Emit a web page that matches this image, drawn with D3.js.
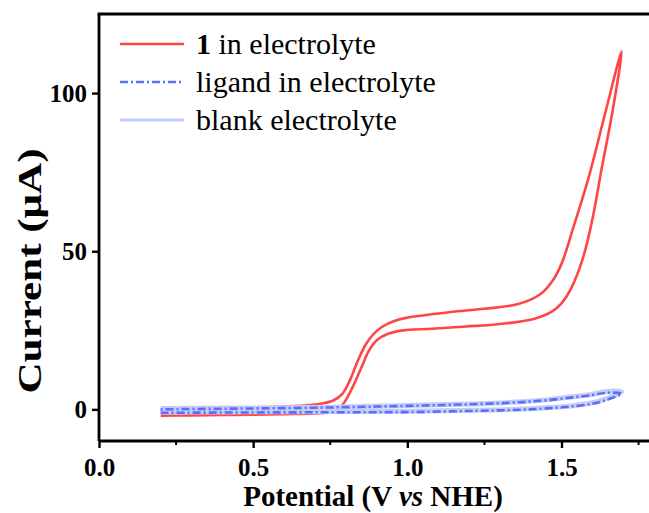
<!DOCTYPE html>
<html>
<head>
<meta charset="utf-8">
<script src="https://cdn.jsdelivr.net/npm/d3@7"></script>
<style>
  body { margin: 0; background: #fff; }
  text { font-family: "Liberation Serif", "Times New Roman", serif; }
</style>
</head>
<body>
<div id="chart"></div>
<script>
// values (potential in V vs NHE, current in µA)
const red_up_v = [0.2, 0.3, 0.4, 0.5, 0.6, 0.68, 0.72, 0.76, 0.79, 0.815, 0.84, 0.865, 0.89, 0.92, 0.96, 1.0, 1.05, 1.14, 1.25, 1.36, 1.43, 1.47, 1.5, 1.54, 1.59, 1.64, 1.695]
const red_up_i = [-0.4, 0, 0.3, 0.6, 0.9, 1.3, 1.8, 2.8, 5, 9.5, 15.5, 20.5, 23.8, 26.2, 28.0, 29.0, 29.7, 30.8, 31.8, 33.3, 36.3, 40.5, 46, 58, 74, 93, 113.2]
const red_lo_v = [0.2, 0.3, 0.4, 0.5, 0.6, 0.7, 0.76, 0.79, 0.82, 0.85, 0.875, 0.9, 0.93, 0.98, 1.08, 1.19, 1.3, 1.41, 1.47, 1.5, 1.53, 1.57, 1.6, 1.63, 1.665, 1.695]
const red_lo_i = [-2.0, -1.9, -1.8, -1.7, -1.5, -1.3, -0.6, 1.5, 6.5, 13, 18.5, 21.8, 23.6, 24.9, 25.5, 26.2, 27, 28.6, 31, 33.5, 38, 48, 60, 76, 94, 113.2]

const blue_v = [0.2, 0.4, 0.6, 0.8, 1.0, 1.2, 1.37, 1.45, 1.53, 1.6, 1.64, 1.695]
const lig_up_i = [0.0, 0.2, 0.4, 0.7, 1.1, 1.6, 2.3, 2.9, 3.7, 4.5, 5.2, 7.0]
const lig_lo_i = [-1.1, -1.0, -0.95, -0.9, -0.85, -0.5, -0.1, 0.3, 0.9, 1.8, 2.8, 5.0]
const blank_up_i = [0.3, 0.4, 0.5, 0.8, 1.2, 1.7, 2.4, 3.0, 3.9, 4.8, 5.6, 7.6]
const blank_lo_i = [-0.9, -0.8, -0.75, -0.7, -0.6, -0.3, 0.1, 0.5, 1.1, 2.1, 3.2, 5.6]

const x_ticks = [0, 0.5, 1.0, 1.5]
const x_minor = [0.25, 0.75, 1.25, 1.75]
const y_ticks = [0, 50, 100]

const width = 649, height = 513
const margin = { top: 14, right: -5, bottom: 72, left: 99 }

const svg = d3.select("#chart").append("svg")
    .attr("width", width)
    .attr("height", height)

const x = d3.scaleLinear().domain([0, 1.8]).range([margin.left, width - margin.right])
const y = d3.scaleLinear().domain([-10, 125]).range([height - margin.bottom, margin.top])

svg.append("clipPath").attr("id", "clip")
    .append("rect")
    .attr("x", x(0)).attr("y", y(125))
    .attr("width", x(1.8) - x(0)).attr("height", y(-10) - y(125))

// build a closed loop: lower branch forward, upper branch back
function loop(lo_v, lo_i, up_v, up_i) {
    const pts = lo_v.map((v, i) => [v, lo_i[i]])
    const back = up_v.map((v, i) => [v, up_i[i]]).reverse()
    return pts.concat(back.slice(1))
}

const line = d3.line()
    .x(d => x(d[0]))
    .y(d => y(d[1]))
    .curve(d3.curveCatmullRom.alpha(0.5))

const plot = svg.append("g").attr("clip-path", "url(#clip)")

plot.append("path")
    .datum(loop(red_lo_v, red_lo_i, red_up_v, red_up_i))
    .attr("d", line)
    .attr("fill", "none")
    .attr("stroke", "#ff4646")
    .attr("stroke-width", 2.6)

plot.append("path")
    .datum(loop(blue_v, blank_lo_i, blue_v, blank_up_i))
    .attr("d", line)
    .attr("fill", "none")
    .attr("stroke", "#c3cbfa")
    .attr("stroke-width", 5)
    .attr("stroke-linejoin", "round")

plot.append("path")
    .datum(loop(blue_v, lig_lo_i, blue_v, lig_up_i))
    .attr("d", line)
    .attr("fill", "none")
    .attr("stroke", "#5a6ff4")
    .attr("stroke-width", 2.6)
    .attr("stroke-dasharray", "8,3,2,3")

// axes
const xAxis = svg.append("g")
    .attr("transform", `translate(0, ${y(-10)})`)
    .call(d3.axisBottom(x).tickValues(x_ticks).tickSize(7).tickFormat(d3.format(".1f")))
xAxis.append("g").selectAll("line")
    .data(x_minor)
    .join("line")
    .attr("x1", d => x(d)).attr("x2", d => x(d))
    .attr("y1", 0).attr("y2", 4)
    .attr("stroke", "#000").attr("stroke-width", 2)

const yAxis = svg.append("g")
    .attr("transform", `translate(${x(0)}, 0)`)
    .call(d3.axisLeft(y).tickValues(y_ticks).tickSize(7).tickFormat(d3.format("d")))

for (const ax of [xAxis, yAxis]) {
    ax.select(".domain").attr("stroke-width", 2.8)
    ax.selectAll(".tick line").attr("stroke-width", 2.4)
    ax.selectAll(".tick text")
        .style("font-family", "'Liberation Serif', serif")
        .style("font-size", "25px")
        .style("font-weight", "bold")
        .attr("fill", "#000")
}
xAxis.selectAll(".tick text").attr("dy", "1.0em")
yAxis.selectAll(".tick text").attr("dx", "-2px")
xAxis.select(".domain").attr("d", `M${x(0)},0H${width + 10}`)
yAxis.select(".domain").attr("d", `M0,${y(-10)}V${y(125)}`)

// top frame line
svg.append("line")
    .attr("x1", x(0) - 1.4).attr("x2", width + 10)
    .attr("y1", y(125)).attr("y2", y(125))
    .attr("stroke", "#000").attr("stroke-width", 2.8)

// axis titles
const xt = svg.append("text")
    .attr("x", 373).attr("y", 506)
    .attr("text-anchor", "middle")
    .style("font-size", "29px").style("font-weight", "bold")
xt.append("tspan").text("Potential (V ")
xt.append("tspan").style("font-style", "italic").text("vs")
xt.append("tspan").text(" NHE)")

// y title is drawn tall and narrow in the original
svg.append("text")
    .attr("transform", "translate(41, 271) rotate(-90)")
    .attr("text-anchor", "middle")
    .attr("textLength", 245)
    .attr("lengthAdjust", "spacingAndGlyphs")
    .style("font-size", "34px").style("font-weight", "bold")
    .text("Current (\u03bcA)")

// legend
const legend = [
    { label: "in electrolyte", bold: "1", color: "#ff4646", width: 2.6, dash: null },
    { label: "ligand in electrolyte", bold: null, color: "#5a6ff4", width: 2.6, dash: "8,3,2,3" },
    { label: "blank electrolyte", bold: null, color: "#c3cbfa", width: 3, dash: null }
]
const lg = svg.append("g")
legend.forEach((d, i) => {
    const ly = 44 + i * 38
    lg.append("line")
        .attr("x1", 120).attr("x2", 184)
        .attr("y1", ly).attr("y2", ly)
        .attr("stroke", d.color).attr("stroke-width", d.width)
        .attr("stroke-dasharray", d.dash)
    const t = lg.append("text")
        .attr("x", 196).attr("y", ly + 10)
        .style("font-size", "30px")
    if (d.bold) {
        t.append("tspan").style("font-weight", "bold").text(d.bold + " ")
    }
    t.append("tspan").text(d.label)
})
</script>
</body>
</html>
